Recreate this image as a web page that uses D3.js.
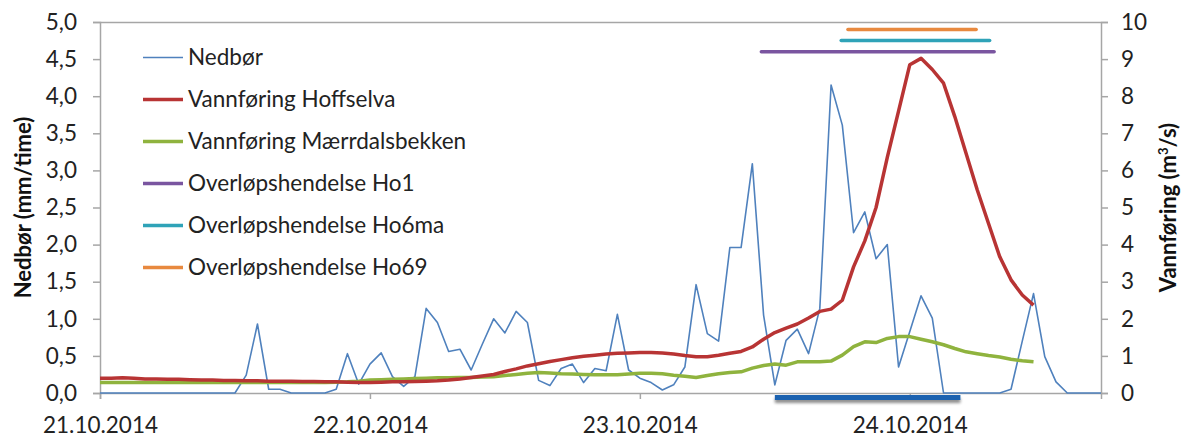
<!DOCTYPE html>
<html><head><meta charset="utf-8">
<script src="https://cdn.jsdelivr.net/npm/d3@7"></script>
<style>
html,body{margin:0;padding:0;background:#fff;}
svg{display:block;font-family:Lato,"Open Sans",sans-serif;}
</style></head><body>
<svg id="c" width="1184" height="436"></svg>
<script>
// ---- data (hourly from 21.10.2014 00:00) ----
const dayLabels = ["21.10.2014","22.10.2014","23.10.2014","24.10.2014"];
const dayTickHours = [0,24,48,72];
const leftTicks = [0,0.5,1,1.5,2,2.5,3,3.5,4,4.5,5];
const rightTicks = [0,1,2,3,4,5,6,7,8,9,10];

const nedbor = [0,0,0,0,0,0,0,0,0,0,0,0,0,0.24,0.93,0.05,0.05,0,0,0,
  0,0.05,0.53,0.12,0.39,0.54,0.22,0.09,0.22,1.14,0.95,0.56,0.59,0.31,0.66,1.0,0.81,1.1,0.95,0.17,
  0.1,0.33,0.39,0.14,0.33,0.3,1.06,0.31,0.2,0.14,0.04,0.11,0.35,1.46,0.8,0.7,1.96,1.96,3.09,1.05,
  0.11,0.71,0.86,0.53,1.14,4.15,3.61,2.16,2.44,1.81,2.0,0.35,0.83,1.31,1.01,0,0,0,0,0,
  0,0.05,0.7,1.34,0.49,0.15,0,0,0,0];

const hoffselva = [0.40,0.40,0.41,0.40,0.38,0.38,0.37,0.37,0.36,0.35,0.35,0.34,0.34,0.33,0.33,0.32,0.32,0.32,0.31,0.31,
  0.30,0.30,0.29,0.28,0.28,0.29,0.30,0.30,0.31,0.32,0.33,0.35,0.38,0.42,0.46,0.50,0.58,0.65,0.73,0.79,
  0.85,0.90,0.95,0.99,1.02,1.05,1.07,1.08,1.09,1.09,1.08,1.05,1.01,0.98,0.98,1.02,1.07,1.12,1.24,1.45,
  1.63,1.75,1.86,2.02,2.20,2.26,2.50,3.40,4.10,5.00,6.35,7.60,8.85,9.02,8.72,8.35,7.45,6.46,5.47,4.57,
  3.67,3.05,2.64,2.37];

const maerrdal = [0.28,0.28,0.28,0.28,0.28,0.28,0.28,0.28,0.28,0.28,0.28,0.28,0.28,0.28,0.28,0.28,0.28,0.28,0.28,0.28,
  0.28,0.29,0.30,0.32,0.35,0.36,0.37,0.38,0.39,0.40,0.41,0.41,0.42,0.42,0.43,0.44,0.47,0.50,0.53,0.55,
  0.54,0.52,0.51,0.50,0.49,0.49,0.49,0.51,0.53,0.53,0.52,0.48,0.45,0.42,0.47,0.52,0.55,0.57,0.67,0.74,
  0.78,0.75,0.84,0.84,0.84,0.86,1.02,1.25,1.38,1.36,1.47,1.52,1.52,1.45,1.38,1.30,1.20,1.11,1.06,1.01,
  0.97,0.91,0.87,0.84];

const overlopNames = ["Overløpshendelse Ho1","Overløpshendelse Ho6ma","Overløpshendelse Ho69"];
const overlopStart = [58.8, 65.9, 66.5];
const overlopEnd = [79.5, 79.1, 77.9];
const overlopLevel = [9.2, 9.5, 9.8];

const periodStart = 60.0, periodEnd = 76.5;

const seriesNames = ["Nedbør","Vannføring Hoffselva","Vannføring Mærrdalsbekken"];
const colors = {ned:"#4f81bd", hoff:"#b83434", maer:"#8fb33e", ho1:"#7a55a0", ho6:"#2fa3b8", ho69:"#e8893f", bar:"#1f62b0"};

// ---- layout ----
const svg = d3.select("#c");
const L = 100, R = 1101, T = 22, B = 393;
const x = d3.scaleLinear().domain([0, 89]).range([L, R]);
const yL = d3.scaleLinear().domain([0, 5]).range([B, T]);
const yR = d3.scaleLinear().domain([0, 10]).range([B, T]);
const axisCol = "#a6a6a6";
const fmt = d => d3.format(".1f")(d).replace(".", ",");

// defs shadow
const defs = svg.append("defs");
const f = defs.append("filter").attr("id","sh").attr("x","-5%").attr("y","-100%").attr("width","110%").attr("height","400%");
f.append("feGaussianBlur").attr("in","SourceAlpha").attr("stdDeviation",1.5).attr("result","b");
f.append("feOffset").attr("in","b").attr("dy",2.5).attr("result","o");
f.append("feComponentTransfer").attr("in","o").attr("result","o2").append("feFuncA").attr("type","linear").attr("slope",0.45);
const fm = f.append("feMerge"); fm.append("feMergeNode").attr("in","o2"); fm.append("feMergeNode").attr("in","SourceGraphic");

// top border
svg.append("line").attr("x1",L).attr("x2",R).attr("y1",T+0.5).attr("y2",T+0.5).attr("stroke",axisCol).attr("stroke-width",1.5);

// axes
const gL = svg.append("g").attr("transform",`translate(${L},0)`)
  .call(d3.axisLeft(yL).tickValues(leftTicks).tickFormat(fmt).tickSize(7).tickPadding(23));
const gR = svg.append("g").attr("transform",`translate(${R},0)`)
  .call(d3.axisRight(yR).tickValues(rightTicks).tickFormat(d3.format("d")).tickSize(7).tickPadding(13));
const gB = svg.append("g").attr("transform",`translate(0,${B})`)
  .call(d3.axisBottom(x).tickValues(dayTickHours).tickFormat((d,i)=>dayLabels[i]).tickSize(6).tickPadding(20));
[gL,gR,gB].forEach(g=>{
  g.select(".domain").attr("stroke",axisCol).attr("stroke-width",1.5);
  g.selectAll(".tick line").attr("stroke",axisCol).attr("stroke-width",1.5);
  g.selectAll(".tick text").attr("fill","#222").style("font-size","22.5px").style("font-family","Lato");
});
gL.selectAll(".tick text").attr("x",-23);
gB.selectAll(".tick text").attr("dy","0.6em");

// axis titles
svg.append("text").attr("transform",`translate(31,${(T+B)/2}) rotate(-90)`).attr("text-anchor","middle")
  .style("font-size","22px").style("font-weight","bold").attr("fill","#111").text("Nedbør (mm/time)");
const rt = svg.append("text").attr("transform",`translate(1176,${(T+B)/2}) rotate(-90)`).attr("text-anchor","middle")
  .style("font-size","22px").style("font-weight","bold").attr("fill","#111");
rt.append("tspan").text("Vannføring (m");
rt.append("tspan").attr("dy",-8).style("font-size","13px").text("3");
rt.append("tspan").attr("dy",8).text("/s)");

// period bar below axis
svg.append("rect").attr("x",x(periodStart)).attr("width",x(periodEnd)-x(periodStart))
  .attr("y",B+2).attr("height",5).attr("fill",colors.bar).attr("filter","url(#sh)");

// lines
const idx = (arr)=>arr.map((v,i)=>[i,v]);
svg.append("path").datum(idx(nedbor)).attr("fill","none").attr("stroke",colors.ned).attr("stroke-width",1.6)
  .attr("stroke-linejoin","round").attr("d",d3.line().x(d=>x(d[0])).y(d=>yL(d[1])));
svg.append("path").datum(idx(maerrdal)).attr("fill","none").attr("stroke",colors.maer).attr("stroke-width",3.5)
  .attr("stroke-linejoin","round").attr("d",d3.line().x(d=>x(d[0])).y(d=>yR(d[1])));
svg.append("path").datum(idx(hoffselva)).attr("fill","none").attr("stroke",colors.hoff).attr("stroke-width",3.5)
  .attr("stroke-linejoin","round").attr("d",d3.line().x(d=>x(d[0])).y(d=>yR(d[1])));

const ovCols = [colors.ho1, colors.ho6, colors.ho69];
overlopLevel.forEach((lv,i)=>{
  svg.append("line").attr("x1",x(overlopStart[i])).attr("x2",x(overlopEnd[i]))
    .attr("y1",yR(lv)).attr("y2",yR(lv)).attr("stroke",ovCols[i]).attr("stroke-width",3.5).attr("stroke-linecap","round");
});

// legend
const legNames = seriesNames.concat(overlopNames);
const legCols = [colors.ned, colors.hoff, colors.maer, colors.ho1, colors.ho6, colors.ho69];
const legW = [1.6,3.5,3.5,3.5,3.5,3.5];
const lg = svg.append("g");
legNames.forEach((n,i)=>{
  const yy = 57.5 + i*42;
  lg.append("line").attr("x1",143).attr("x2",183).attr("y1",yy).attr("y2",yy).attr("stroke",legCols[i]).attr("stroke-width",legW[i]);
  lg.append("text").attr("x",188).attr("y",yy).attr("dy","0.35em").style("font-size","22.5px").attr("fill","#222").text(n);
});
</script>
</body></html>
